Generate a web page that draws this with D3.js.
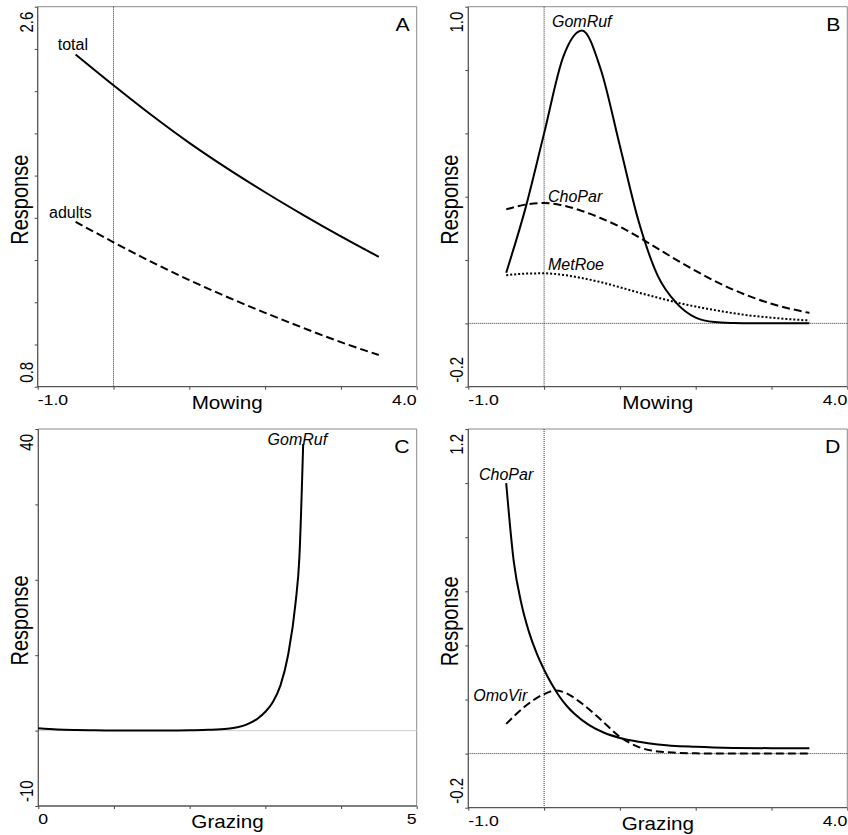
<!DOCTYPE html>
<html>
<head>
<meta charset="utf-8">
<script src="https://cdn.jsdelivr.net/npm/d3@7"></script>
<style>
  body { margin: 0; background: #fff; }
  svg { display: block; font-family: "Liberation Sans", Arial, sans-serif; }
</style>
</head>
<body>
<div id="chart"></div>
<script>
// ---- data ----
// A: mowing, total / adults
var mowA_x   = [-0.5, 0, 0.5, 1, 1.5, 2, 2.5, 3, 3.5];
var totalA   = [2.374, 2.228, 2.087, 1.955, 1.834, 1.721, 1.614, 1.512, 1.415];
var adultsA  = [1.581, 1.484, 1.391, 1.305, 1.225, 1.150, 1.079, 1.011, 0.950];

// B: mowing, species responses
var mowB_x   = [-0.5, -0.25, 0, 0.25, 0.5, 0.75, 1, 1.25, 1.5, 1.75, 2, 2.25, 2.5, 2.75, 3, 3.25, 3.5];
var gomRufB  = [0.16, 0.36, 0.60, 0.84, 0.925, 0.80, 0.56, 0.32, 0.15, 0.063, 0.018, 0.004, 0.001, 0, 0, 0, 0];
var choParB  = [0.36, 0.375, 0.38, 0.372, 0.355, 0.332, 0.305, 0.272, 0.236, 0.200, 0.166, 0.134, 0.106, 0.082, 0.062, 0.046, 0.033];
var metRoeB  = [0.152, 0.157, 0.158, 0.153, 0.143, 0.130, 0.114, 0.097, 0.081, 0.066, 0.053, 0.042, 0.032, 0.024, 0.018, 0.013, 0.009];

// C: grazing, GomRuf
var grzC_x   = [0, 0.25, 0.5, 0.75, 1, 1.25, 1.5, 1.75, 2, 2.25, 2.5, 2.75, 2.9, 3.0, 3.1, 3.2, 3.3, 3.4, 3.45, 3.5];
var gomRufC  = [0.3, 0.15, 0.08, 0.04, 0.02, 0.01, 0.01, 0.02, 0.05, 0.1, 0.25, 0.8, 1.6, 2.5, 3.8, 6, 10, 17, 23, 38];

// D: grazing, ChoPar / OmoVir
var grzD_x   = [-0.5, -0.4, -0.3, -0.2, -0.1, 0, 0.1, 0.2, 0.3, 0.4, 0.6, 0.8, 1.0, 1.25, 1.5, 2.0, 2.5, 3.0, 3.5];
var choParD  = [1.0, 0.71, 0.555, 0.450, 0.372, 0.31, 0.257, 0.212, 0.176, 0.147, 0.104, 0.076, 0.058, 0.044, 0.034, 0.025, 0.021, 0.02, 0.02];
var omoVirD_x = [-0.5, -0.25, 0, 0.15, 0.25, 0.5, 0.75, 1.0, 1.25, 1.5, 1.75, 2.0, 2.5, 3.0, 3.5];
var omoVirD  = [0.11, 0.175, 0.22, 0.233, 0.228, 0.185, 0.125, 0.062, 0.024, 0.008, 0.003, 0.001, 0, 0, 0];

// tick values and end labels
var ticksA = d3.range(0.8, 2.61, 0.2), ticksB = d3.range(-0.2, 1.01, 0.2);
var ticksC = d3.range(-10, 41, 10),   ticksD = d3.range(-0.2, 1.21, 0.2);
var ticksMow = d3.range(-1, 4.01, 1), ticksGrz = d3.range(0, 5.01, 1);

function pts(xs, ys) { return xs.map(function(x, i) { return [x, ys[i]]; }); }

var panels = [
  { letter: 'A', box: [37.7, 6.7, 416.7, 386.7], xdom: [-1, 4], ydom: [0.8, 2.6],
    xticks: ticksMow, yticks: ticksA, xlab: ['-1.0', '4.0'], ylab: ['0.8', '2.6'], xtitle: 'Mowing',
    vline: 0, hline: null, curve: d3.curveCatmullRom.alpha(0.5),
    series: [ { d: pts(mowA_x, totalA), style: 'solid' }, { d: pts(mowA_x, adultsA), style: 'dash' } ],
    notes: [ { t: 'total', x: -0.736, y: 2.395, it: false }, { t: 'adults', x: -0.851, y: 1.599, it: false } ] },
  { letter: 'B', box: [468.3, 6.7, 847.3, 386.7], xdom: [-1, 4], ydom: [-0.2, 1.0],
    xticks: ticksMow, yticks: ticksB, xlab: ['-1.0', '4.0'], ylab: ['-0.2', '1.0'], xtitle: 'Mowing',
    vline: 0, hline: 'dot', curve: d3.curveMonotoneX,
    series: [ { d: pts(mowB_x, gomRufB), style: 'solid' }, { d: pts(mowB_x, choParB), style: 'dash' },
              { d: pts(mowB_x, metRoeB), style: 'dot' } ],
    notes: [ { t: 'GomRuf', x: 0.104, y: 0.936, it: true }, { t: 'ChoPar', x: 0.051, y: 0.383, it: true },
             { t: 'MetRoe', x: 0.051, y: 0.169, it: true } ] },
  { letter: 'C', box: [38.3, 429, 416.7, 806], xdom: [0, 5], ydom: [-10, 40],
    xticks: ticksGrz, yticks: ticksC, xlab: ['0', '5'], ylab: ['-10', '40'], xtitle: 'Grazing',
    vline: null, hline: 'grey', curve: d3.curveMonotoneX,
    series: [ { d: pts(grzC_x, gomRufC), style: 'solid' } ],
    notes: [ { t: 'GomRuf', x: 3.03, y: 37.9, it: true } ] },
  { letter: 'D', box: [468.3, 429, 847.3, 807.7], xdom: [-1, 4], ydom: [-0.2, 1.2],
    xticks: ticksMow, yticks: ticksD, xlab: ['-1.0', '4.0'], ylab: ['-0.2', '1.2'], xtitle: 'Grazing',
    vline: 0, hline: 'dot', curve: d3.curveMonotoneX,
    series: [ { d: pts(grzD_x, choParD), style: 'solid' }, { d: pts(omoVirD_x, omoVirD), style: 'dash' } ],
    notes: [ { t: 'ChoPar', x: -0.859, y: 1.011, it: true }, { t: 'OmoVir', x: -0.934, y: 0.194, it: true } ] }
];

var SX = 1.18; // the printed figure is stretched sideways a little

var svg = d3.select('#chart').append('svg')
  .attr('width', 848)
  .attr('height', 835);

panels.forEach(function(p) {
  var L = p.box[0], T = p.box[1], R = p.box[2], B = p.box[3];
  var x = d3.scaleLinear().domain(p.xdom).range([L, R]);
  var y = d3.scaleLinear().domain(p.ydom).range([B, T]);
  var g = svg.append('g').attr('class', 'panel panel-' + p.letter);
  var line = d3.line()
    .x(function(d) { return x(d[0]); })
    .y(function(d) { return y(d[1]); })
    .curve(p.curve);

  // frame: top + right light grey
  g.append('path')
    .attr('d', 'M' + L + ',' + T + 'H' + R + 'V' + B)
    .attr('fill', 'none').attr('stroke', '#8a8a8a').attr('stroke-width', 1);

  // reference lines
  if (p.vline !== null) {
    g.append('line')
      .attr('x1', x(p.vline)).attr('x2', x(p.vline)).attr('y1', T).attr('y2', B)
      .attr('stroke', '#333').attr('stroke-width', 1).attr('stroke-dasharray', '1,1');
  }
  if (p.hline === 'dot') {
    g.append('line')
      .attr('x1', L).attr('x2', R).attr('y1', y(0)).attr('y2', y(0))
      .attr('stroke', '#333').attr('stroke-width', 1).attr('stroke-dasharray', '1,1');
  } else if (p.hline === 'grey') {
    g.append('line')
      .attr('x1', L).attr('x2', R).attr('y1', y(0)).attr('y2', y(0))
      .attr('stroke', '#cfcfcf').attr('stroke-width', 1);
  }

  // axes (ticks only, axis lines drawn below)
  var ax = g.append('g').attr('transform', 'translate(0,' + B + ')')
    .call(d3.axisBottom(x).tickValues(p.xticks).tickSize(3).tickSizeOuter(0).tickFormat(''));
  var ay = g.append('g').attr('transform', 'translate(' + L + ',0)')
    .call(d3.axisLeft(y).tickValues(p.yticks).tickSize(3).tickSizeOuter(0).tickFormat(''));
  [ax, ay].forEach(function(a) {
    a.select('.domain').remove();
    a.selectAll('.tick line').attr('stroke', '#444');
  });
  g.append('path')
    .attr('d', 'M' + L + ',' + T + 'V' + B + 'H' + R)
    .attr('fill', 'none').attr('stroke', '#555').attr('stroke-width', 1.3);

  // curves
  p.series.forEach(function(s) {
    var path = g.append('path')
      .attr('d', line(s.d))
      .attr('fill', 'none')
      .attr('stroke', '#000')
      .attr('stroke-width', 2);
    if (s.style === 'dash') path.attr('stroke-dasharray', '8,4');
    if (s.style === 'dot') path.attr('stroke-dasharray', '2,2');
  });

  // end tick labels
  var fs = 15;
  g.append('text').text(p.xlab[0]).attr('font-size', fs).attr('text-anchor', 'start')
    .attr('transform', 'translate(' + L + ',' + (B + 18) + ') scale(' + SX + ',1)');
  g.append('text').text(p.xlab[1]).attr('font-size', fs).attr('text-anchor', 'end')
    .attr('transform', 'translate(' + R + ',' + (B + 18) + ') scale(' + SX + ',1)');
  g.append('text').text(p.ylab[0]).attr('font-size', fs).attr('text-anchor', 'start')
    .attr('transform', 'translate(' + (L - 5) + ',' + (B - 4) + ') scale(' + SX + ',1) rotate(-90)');
  g.append('text').text(p.ylab[1]).attr('font-size', fs).attr('text-anchor', 'end')
    .attr('transform', 'translate(' + (L - 5) + ',' + (T + 5) + ') scale(' + SX + ',1) rotate(-90)');

  // axis titles
  g.append('text').text(p.xtitle).attr('font-size', 17.5).attr('text-anchor', 'middle')
    .attr('transform', 'translate(' + ((L + R) / 2) + ',' + (B + 22) + ') scale(' + SX + ',1)');
  g.append('text').text('Response').attr('font-size', 20).attr('text-anchor', 'middle')
    .attr('transform', 'translate(' + (L - 10) + ',' + ((T + B) / 2 + 3) + ') scale(' + SX + ',1) rotate(-90)');

  // panel letter
  g.append('text').text(p.letter).attr('font-size', 18).attr('text-anchor', 'end')
    .attr('transform', 'translate(' + (R - 7) + ',' + (T + 24) + ') scale(' + SX + ',1)');

  // curve labels
  p.notes.forEach(function(n) {
    g.append('text').text(n.t)
      .attr('x', x(n.x)).attr('y', y(n.y))
      .attr('font-size', 16)
      .attr('font-style', n.it ? 'italic' : 'normal');
  });
});
</script>
</body>
</html>
